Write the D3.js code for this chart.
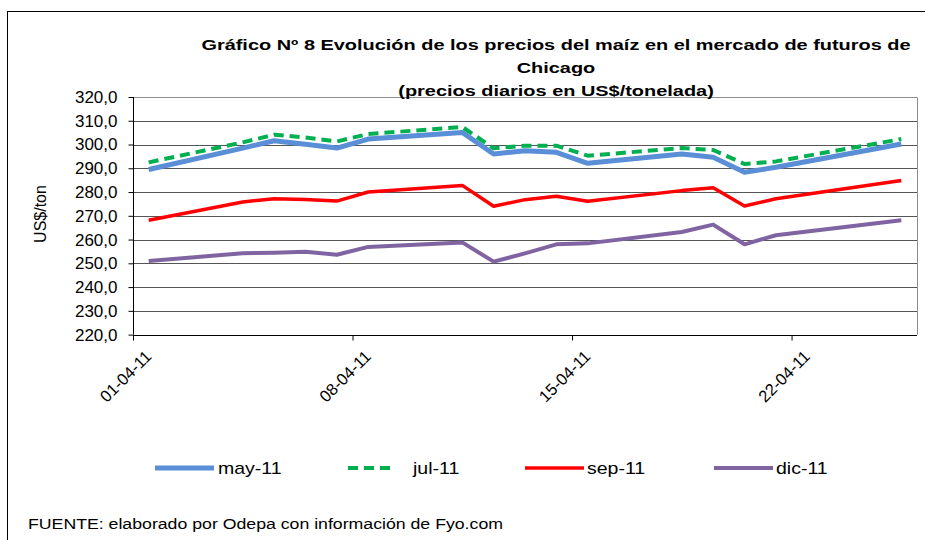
<!DOCTYPE html>
<html>
<head>
<meta charset="utf-8">
<script src="https://cdn.jsdelivr.net/npm/d3@7"></script>
<style>
  body { margin: 0; background: #fff; }
  svg { display: block; }
  text { font-family: Arial, "Liberation Sans", sans-serif; fill: #000; }
</style>
</head>
<body>
<div id="chart"></div>
<script>
// trading days (22-04 was Good Friday, no quote)
const dates = ["2011-04-01", "2011-04-04", "2011-04-05", "2011-04-06", "2011-04-07", "2011-04-08",
               "2011-04-11", "2011-04-12", "2011-04-13", "2011-04-14", "2011-04-15",
               "2011-04-18", "2011-04-19", "2011-04-20", "2011-04-21", "2011-04-25"];

// US$/ton
const may11 = [289.5, 298.5, 301.6, 300.1, 298.5, 302.3, 305.1, 296.0, 297.4, 296.7, 292.1, 296.0, 294.6, 288.3, 290.4, 300.2];
const jul11 = [292.5, 300.9, 304.1, 303.0, 301.3, 304.4, 307.4, 298.4, 299.5, 299.5, 295.3, 298.5, 297.7, 291.8, 292.9, 302.3];
const sep11 = [268.1, 275.8, 277.2, 276.9, 276.2, 280.0, 282.8, 274.0, 276.8, 278.2, 276.1, 280.6, 281.8, 274.1, 277.2, 284.9];
const dic11 = [251.0, 254.2, 254.5, 254.9, 253.6, 256.9, 258.8, 250.7, 254.2, 258.0, 258.4, 263.2, 266.3, 258.0, 261.8, 268.1];

const seriesNames = ["may-11", "jul-11", "sep-11", "dic-11"];
const yTicks = [220, 230, 240, 250, 260, 270, 280, 290, 300, 310, 320];
const xTickDates = ["2011-04-01", "2011-04-08", "2011-04-15", "2011-04-22"];
const titleLines = ["Gráfico Nº 8 Evolución de los precios del maíz en el mercado de futuros de",
                    "Chicago",
                    "(precios diarios en US$/tonelada)"];
const yTitle = "US$/ton";
const sourceText = "FUENTE: elaborado por Odepa con información de Fyo.com";

const parse = d3.timeParse("%Y-%m-%d");
const W = 925, H = 540;
const plot = { left: 133, right: 917, top: 97, bottom: 334.6 };

const styles = [
    { color: "#5A8ED6", width: 5, dash: null },
    { color: "#00B050", width: 4, dash: "10,6" },
    { color: "#FF0000", width: 3.5, dash: null },
    { color: "#8064A2", width: 4, dash: null }
];

const svg = d3.select("#chart").append("svg")
    .attr("width", W)
    .attr("height", H);

svg.append("rect")
    .attr("x", 7.5).attr("y", 11.5)
    .attr("width", 1000).attr("height", 1000)
    .attr("fill", "#fff")
    .attr("stroke", "#000")
    .attr("stroke-width", 1);

// scales: a day-based date axis, points in the middle of each day
const x = d3.scaleTime()
    .domain([parse("2011-04-01"), parse("2011-04-26")])
    .range([plot.left, plot.right]);
const y = d3.scaleLinear()
    .domain([220, 320])
    .range([plot.bottom, plot.top]);
const mid = s => d3.timeHour.offset(parse(s), 12);

// grid lines
svg.append("g")
    .selectAll("line")
    .data(yTicks.slice(1))
    .enter()
    .append("line")
    .attr("x1", plot.left).attr("x2", plot.right)
    .attr("y1", d => Math.round(y(d)) + 0.5)
    .attr("y2", d => Math.round(y(d)) + 0.5)
    .attr("stroke", d => d === 320 ? "#8c8c8c" : "#555")
    .attr("stroke-width", 1);

// right border of plot area
svg.append("line")
    .attr("x1", plot.right + 0.5).attr("x2", plot.right + 0.5)
    .attr("y1", Math.round(plot.top) + 0.5).attr("y2", plot.bottom)
    .attr("stroke", "#8c8c8c");

// y axis
const yAxis = svg.append("g")
    .attr("transform", `translate(${plot.left + 0.5},0)`)
    .call(d3.axisLeft(y)
        .tickValues(yTicks)
        .tickSize(5)
        .tickPadding(11)
        .tickFormat(d => d.toFixed(1).replace(".", ",")));
yAxis.select(".domain").attr("stroke", "#000").attr("d", `M0,${plot.top}V${plot.bottom}`);
yAxis.selectAll(".tick line").attr("stroke", "#000");
yAxis.selectAll("text")
    .attr("font-size", "17px")
    .attr("font-family", "Arial, 'Liberation Sans', sans-serif");

// x axis
const xAxis = svg.append("g")
    .attr("transform", `translate(0,${Math.round(plot.bottom) + 0.5})`)
    .call(d3.axisBottom(x)
        .tickValues(xTickDates.map(parse))
        .tickSize(5)
        .tickFormat(d3.timeFormat("%d-%m-%y")));
xAxis.select(".domain").attr("stroke", "#000").attr("d", `M${plot.left},0H${plot.right}`);
xAxis.selectAll(".tick line").attr("stroke", "#000");
xAxis.selectAll("text")
    .attr("font-size", "16.5px")
    .attr("font-family", "Arial, 'Liberation Sans', sans-serif")
    .attr("text-anchor", "end")
    .attr("x", 0).attr("y", 0).attr("dy", 0)
    .attr("transform", "translate(19,22) rotate(-45)");

// series lines
const allValues = [may11, jul11, sep11, dic11];
const line = d3.line()
    .x((d, i) => x(mid(dates[i])))
    .y(d => y(d));

svg.append("g")
    .selectAll("path")
    .data(allValues)
    .enter()
    .append("path")
    .attr("d", d => line(d))
    .attr("fill", "none")
    .attr("stroke", (d, i) => styles[i].color)
    .attr("stroke-width", (d, i) => styles[i].width)
    .attr("stroke-dasharray", (d, i) => styles[i].dash)
    .attr("stroke-linejoin", "round");

// titles
svg.append("g")
    .selectAll("text")
    .data(titleLines)
    .enter()
    .append("text")
    .attr("transform", (d, i) => `translate(556,${50 + i * 23}) scale(1.33,1)`)
    .attr("text-anchor", "middle")
    .attr("font-size", "15px")
    .attr("font-weight", "bold")
    .text(d => d);

svg.append("text")
    .attr("transform", "translate(46,214) rotate(-90)")
    .attr("text-anchor", "middle")
    .attr("font-size", "16px")
    .text(yTitle);

// legend
const legendPos = [
    { x: 155, len: 59, tx: 218 },
    { x: 348, len: 45, tx: 413 },
    { x: 525, len: 59, tx: 587 },
    { x: 714, len: 59, tx: 776 }
];
const legend = svg.append("g")
    .selectAll("g")
    .data(seriesNames)
    .enter()
    .append("g");
legend.append("line")
    .attr("x1", (d, i) => legendPos[i].x)
    .attr("x2", (d, i) => legendPos[i].x + legendPos[i].len)
    .attr("y1", 468).attr("y2", 468)
    .attr("stroke", (d, i) => styles[i].color)
    .attr("stroke-width", (d, i) => styles[i].width)
    .attr("stroke-dasharray", (d, i) => styles[i].dash);
legend.append("text")
    .attr("transform", (d, i) => `translate(${legendPos[i].tx},474) scale(1.22,1)`)
    .attr("font-size", "16px")
    .text(d => d);

svg.append("text")
    .attr("transform", "translate(28,529) scale(1.15,1)")
    .attr("font-size", "15.4px")
    .text(sourceText);
</script>
</body>
</html>
